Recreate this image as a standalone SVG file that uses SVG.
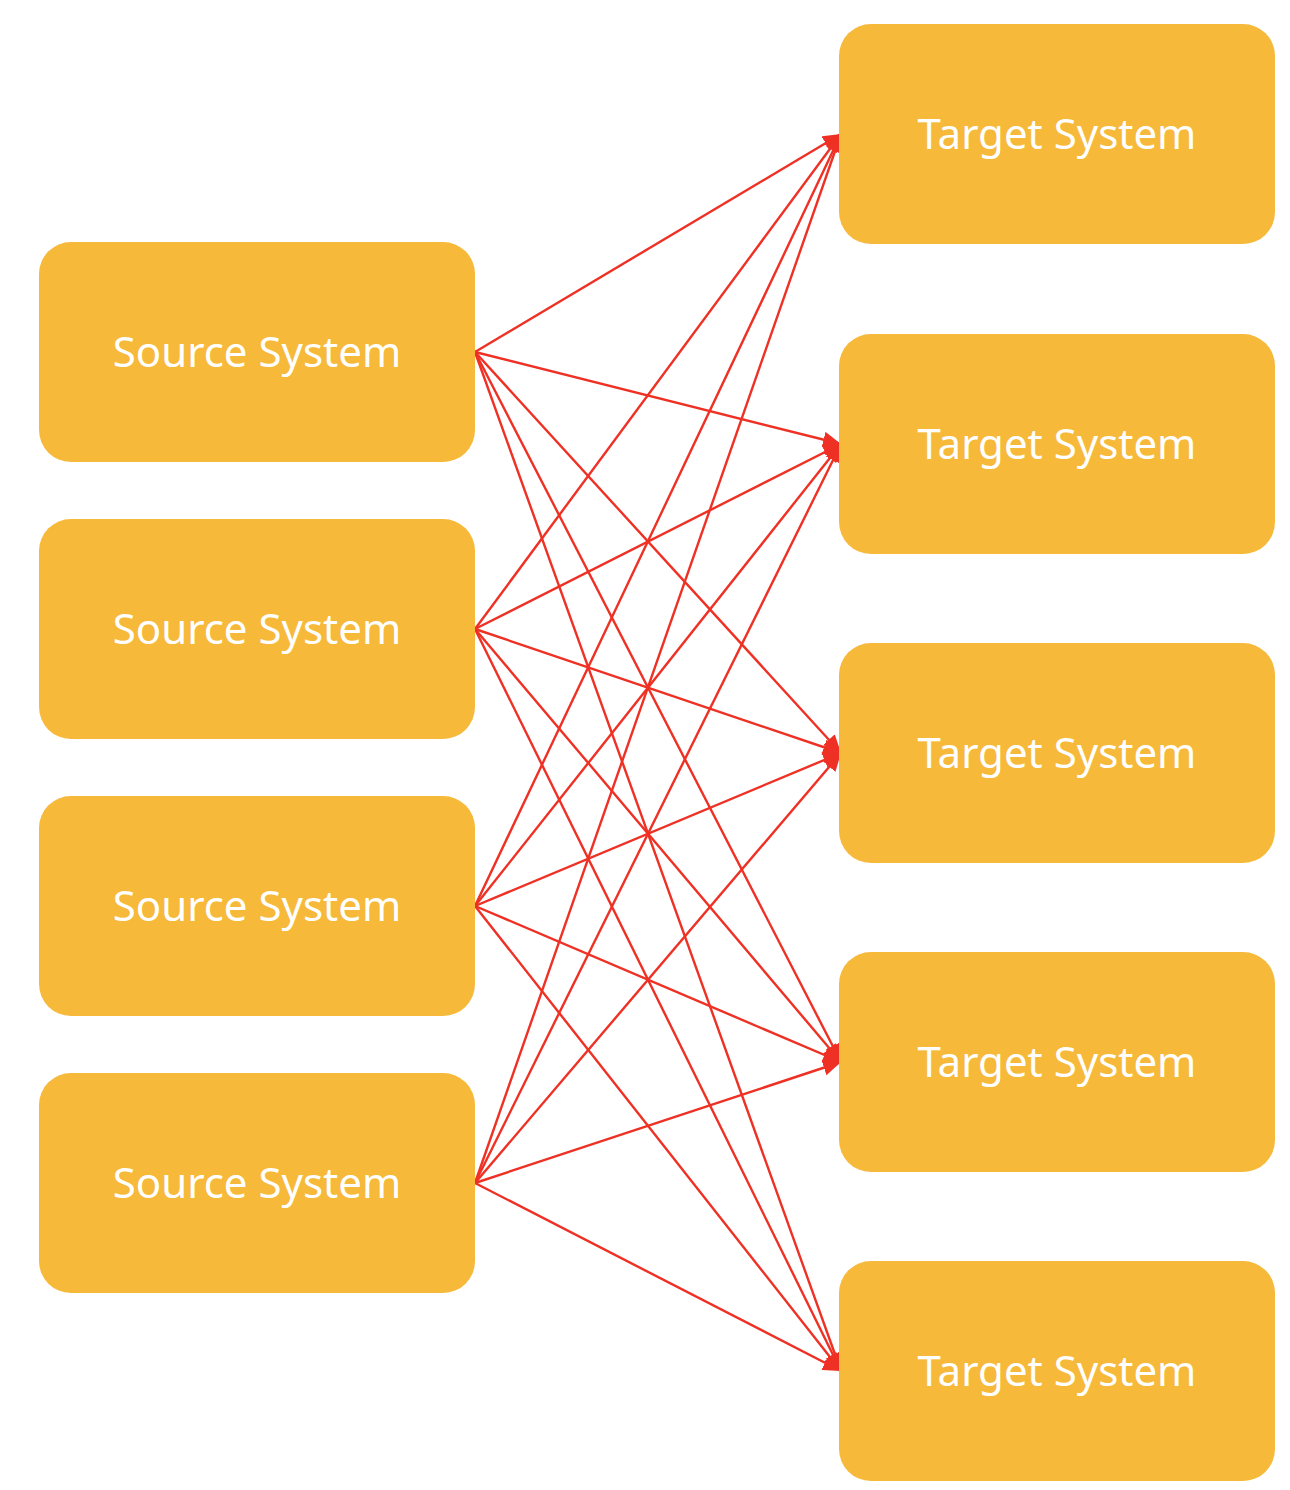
<svg xmlns="http://www.w3.org/2000/svg" width="1290" height="1490" viewBox="0 0 1290 1490">
<style>
.box{fill:#F7B939}
.lbl{fill:#FFFFFF;font-family:"Noto Sans","Liberation Sans",sans-serif;font-size:42px;text-anchor:middle}
.c{stroke:#EE3124;stroke-width:2.4;fill:none;marker-end:url(#ah)}
</style>
<defs>
<marker id="ah" markerUnits="userSpaceOnUse" markerWidth="20" markerHeight="16" refX="18" refY="8" orient="auto">
<path d="M0,0 L18,8 L0,16 Z" fill="#EE3124"/>
</marker>
</defs>
<rect width="1290" height="1490" fill="#FFFFFF"/>
<g id="connectors">
<path class="c" d="M475,352 L841,134"/>
<path class="c" d="M475,352 L841,444"/>
<path class="c" d="M475,352 L841,753"/>
<path class="c" d="M475,352 L841,1062"/>
<path class="c" d="M475,352 L841,1371"/>
<path class="c" d="M475,629 L841,134"/>
<path class="c" d="M475,629 L841,444"/>
<path class="c" d="M475,629 L841,753"/>
<path class="c" d="M475,629 L841,1062"/>
<path class="c" d="M475,629 L841,1371"/>
<path class="c" d="M475,906 L841,134"/>
<path class="c" d="M475,906 L841,444"/>
<path class="c" d="M475,906 L841,753"/>
<path class="c" d="M475,906 L841,1062"/>
<path class="c" d="M475,906 L841,1371"/>
<path class="c" d="M475,1183 L841,134"/>
<path class="c" d="M475,1183 L841,444"/>
<path class="c" d="M475,1183 L841,753"/>
<path class="c" d="M475,1183 L841,1062"/>
<path class="c" d="M475,1183 L841,1371"/>
</g>
<g id="source1"><rect class="box" x="39" y="242" width="436" height="220" rx="32"/><text class="lbl" x="257" y="367">Source System</text></g>
<g id="source2"><rect class="box" x="39" y="519" width="436" height="220" rx="32"/><text class="lbl" x="257" y="644">Source System</text></g>
<g id="source3"><rect class="box" x="39" y="796" width="436" height="220" rx="32"/><text class="lbl" x="257" y="921">Source System</text></g>
<g id="source4"><rect class="box" x="39" y="1073" width="436" height="220" rx="32"/><text class="lbl" x="257" y="1198">Source System</text></g>
<g id="target1"><rect class="box" x="839" y="24" width="436" height="220" rx="32"/><text class="lbl" x="1057" y="149">Target System</text></g>
<g id="target2"><rect class="box" x="839" y="334" width="436" height="220" rx="32"/><text class="lbl" x="1057" y="459">Target System</text></g>
<g id="target3"><rect class="box" x="839" y="643" width="436" height="220" rx="32"/><text class="lbl" x="1057" y="768">Target System</text></g>
<g id="target4"><rect class="box" x="839" y="952" width="436" height="220" rx="32"/><text class="lbl" x="1057" y="1077">Target System</text></g>
<g id="target5"><rect class="box" x="839" y="1261" width="436" height="220" rx="32"/><text class="lbl" x="1057" y="1386">Target System</text></g>
</svg>
